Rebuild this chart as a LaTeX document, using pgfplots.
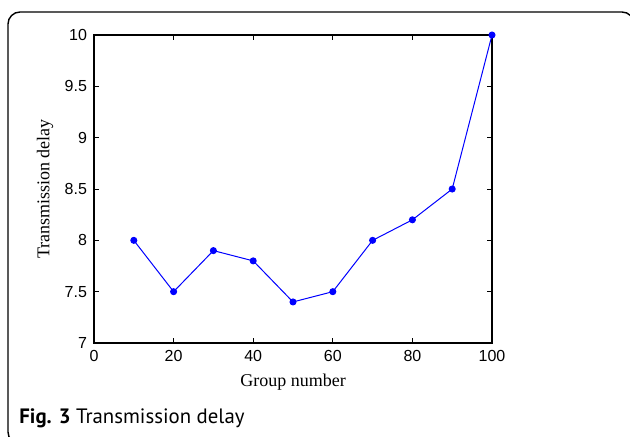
\documentclass[border=0pt]{standalone}
\usepackage{pgfplots}
\pgfplotsset{compat=1.18}
\usepackage{fontspec}
\setmainfont{Liberation Serif}
\newfontfamily\ticksans{Liberation Sans}
\newfontfamily\capsans{PT Sans}
\begin{document}
\begin{tikzpicture}
\useasboundingbox (0pt,0pt) rectangle (315pt,218pt);
\begin{scope}
\clip (0pt,0pt) rectangle (315pt,218pt);
\draw[line width=0.7pt, rounded corners=6pt] (4pt,-4pt) rectangle (317pt,212pt);
\end{scope}
\begin{axis}[
  at={(47pt,46.5pt)}, anchor=south west,
  scale only axis, width=199pt, height=154pt,
  xmin=0, xmax=100, ymin=7, ymax=10,
  xtick={0,20,40,60,80,100},
  ytick={7,7.5,8,8.5,9,9.5,10},
  tick align=inside,
  major tick length=2.5pt,
  axis line style={line width=0.6pt},
  every tick/.style={black, line width=0.5pt},
  tick label style={font=\ticksans\fontsize{8}{9}\selectfont},
  /pgf/number format/assume math mode=true,
  xlabel={Group number},
  ylabel={Transmission delay},
  label style={font=\fontsize{9}{10}\selectfont},
  xlabel style={at={(axis description cs:0.5,-0.127)}, anchor=center},
  ylabel style={at={(axis description cs:-0.123,0.5)}, anchor=center},
  clip=false,
]
\addplot[blue, line width=0.5pt, mark=*, mark size=1.5pt, mark options={fill=blue, draw=blue}]
  coordinates {(10,8) (20,7.5) (30,7.9) (40,7.8) (50,7.4) (60,7.5) (70,8) (80,8.2) (90,8.5) (100,10)};
\end{axis}
\node[anchor=base west, inner sep=0pt, font=\capsans\fontsize{10.4}{12}\selectfont] at (9.5pt,6.5pt) {\textbf{Fig. 3} Transmission delay};
\end{tikzpicture}
\end{document}
